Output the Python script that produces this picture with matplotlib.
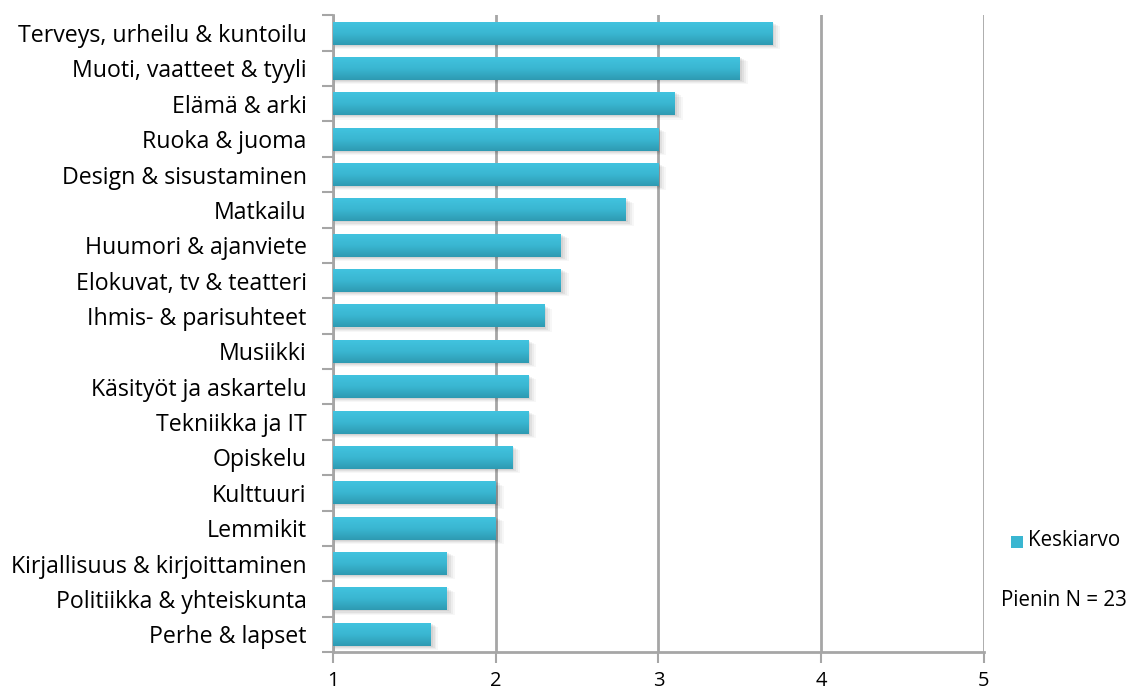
import numpy as np
import matplotlib.pyplot as plt
from matplotlib.colors import LinearSegmentedColormap
from matplotlib.patches import Rectangle

aiheet = ['Terveys, urheilu & kuntoilu', 'Muoti, vaatteet & tyyli', 'Elämä & arki',
          'Ruoka & juoma', 'Design & sisustaminen', 'Matkailu', 'Huumori & ajanviete',
          'Elokuvat, tv & teatteri', 'Ihmis- & parisuhteet', 'Musiikki',
          'Käsityöt ja askartelu', 'Tekniikka ja IT', 'Opiskelu', 'Kulttuuri',
          'Lemmikit', 'Kirjallisuus & kirjoittaminen', 'Politiikka & yhteiskunta',
          'Perhe & lapset']
keskiarvo = [3.7, 3.5, 3.1, 3.0, 3.0, 2.8, 2.4, 2.4, 2.3, 2.2, 2.2, 2.2, 2.1, 2.0, 2.0,
             1.7, 1.7, 1.6]
x_ticks = [1, 2, 3, 4, 5]

plt.rcParams['font.family'] = ['Open Sans', 'DejaVu Sans']
grid_color = '#A6A6A6'
grad = LinearSegmentedColormap.from_list('bar', ['#41C3DF', '#3AB6D1', '#2E9AB2'])

fig = plt.figure(figsize=(11.31, 6.93), dpi=100)
ax = fig.add_axes([0.2944, 0.0592, 0.5756, 0.9186])

n = len(aiheet)
y = np.arange(n)[::-1]
h = 0.65

for yi, v in zip(y, keskiarvo):
    # pehmeä varjo palkin alla
    for k, a in enumerate([0.06, 0.05, 0.04, 0.03]):
        off = 0.03 + k * 0.03
        ax.add_patch(Rectangle((1, yi - h / 2 - off), v - 1 + 0.012 * (k + 1), h,
                               facecolor='black', alpha=a, edgecolor='none', zorder=2))
    ax.imshow(np.linspace(0, 1, 50).reshape(-1, 1), cmap=grad, aspect='auto',
              extent=(1, v, yi - h / 2, yi + h / 2), origin='upper', zorder=3)

ax.set_xlim(1, 5)
ax.set_ylim(-0.5, n - 0.5)

ax.set_xticks(x_ticks)
ax.set_xticklabels([str(t) for t in x_ticks], fontsize=14.5)
ax.set_yticks(y)
ax.set_yticklabels(aiheet, fontsize=16.7)
ax.set_yticks(np.arange(-0.5, n, 1), minor=True)
ax.tick_params(axis='y', which='major', length=0, pad=19)
ax.tick_params(axis='y', which='minor', length=8, width=1.5, color=grid_color)
ax.tick_params(axis='x', length=8, width=1.5, color=grid_color, pad=6)

ax.grid(axis='x', color=grid_color, linewidth=2, zorder=1)
ax.set_axisbelow(True)
for s in ['top', 'right']:
    ax.spines[s].set_visible(False)
for s in ['left', 'bottom']:
    ax.spines[s].set_color(grid_color)
    ax.spines[s].set_linewidth(2)

fig.patches.append(Rectangle((1011, 693 - 548), 12, 12, transform=None,
                             facecolor='#3AB6D1', edgecolor='none'))
fig.text(1028 / 1131, 1 - 541 / 693, 'Keskiarvo', fontsize=14.8, va='center')
fig.text(1001 / 1131, 1 - 600 / 693, 'Pienin N = 23', fontsize=14.8, va='center')

fig.savefig('out.png', dpi=100)
